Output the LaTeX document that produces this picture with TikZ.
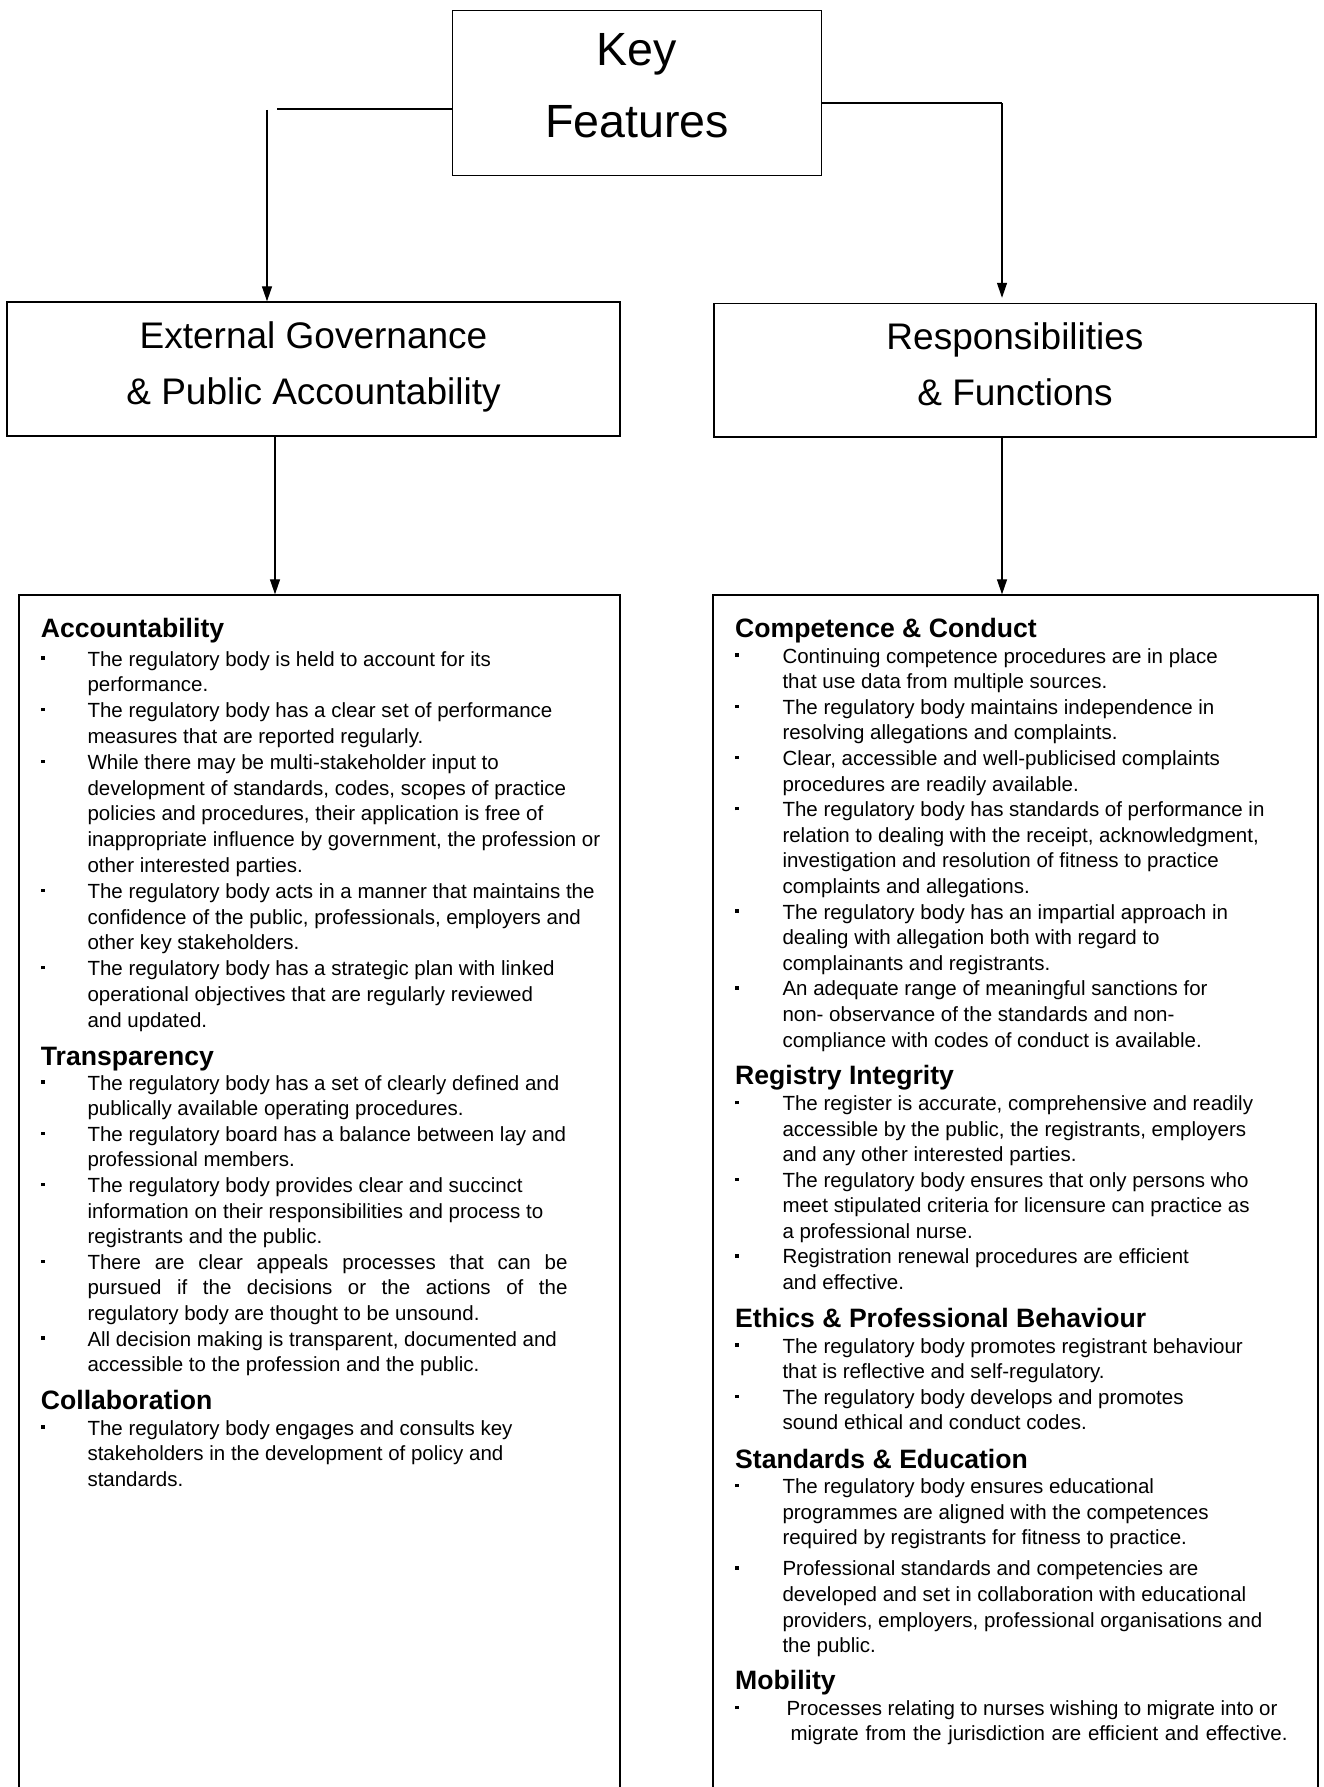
\documentclass[tikz,border=0pt]{standalone}
\usepackage{fontspec}
\setmainfont{Liberation Sans}
\usetikzlibrary{arrows.meta}
\newcommand{\bulL}{\leavevmode\llap{\rule[6.3pt]{3.4pt}{3.4pt}\hspace{42.9pt}}}
\newcommand{\bulR}{\leavevmode\llap{\rule[6.3pt]{3.4pt}{3.4pt}\hspace{43.9pt}}}
\newcommand{\bodyfont}[1]{\fontsize{20.5pt}{#1}\selectfont}
\begin{document}
\begin{tikzpicture}[x=1pt,y=-1pt,
  frame/.style={draw, line width=1.3pt, inner sep=0pt},
  conn/.style={line width=1.2pt},
  arr/.style={conn, -{Triangle[width=10pt,length=15pt]}},
  ttl/.style={anchor=base, inner sep=0pt, font=\fontsize{37pt}{44pt}\selectfont},
  keyt/.style={anchor=base, inner sep=0pt, font=\fontsize{46.6pt}{56pt}\selectfont},
  head/.style={anchor=base west, inner sep=0pt, font=\bfseries\fontsize{26.6pt}{30pt}\selectfont},
  body/.style={anchor=base west, inner sep=0pt},
]
\useasboundingbox (0,0) rectangle (1324,1787);
\fill[white] (0,0) rectangle (1324,1787);

% boxes
\node[frame, minimum width=369pt, minimum height=165pt] (key) at (637.2,93.2) {};
\node[frame, minimum width=613pt, minimum height=134pt] (eg) at (313.5,369) {};
\node[frame, minimum width=602pt, minimum height=133.5pt] (rf) at (1015,370.2) {};
\node[frame, minimum width=601pt, minimum height=1215pt] (lbox) at (319.5,1202.5) {};
\node[frame, minimum width=605pt, minimum height=1215pt] (rbox) at (1015.5,1202.5) {};

% titles
\node[keyt] (k1) at (637,65.7) {Key};
\node[keyt] (k2) at (637,137.7) {Features};
\node[ttl] (eg1) at (313.5,348) {External Governance};
\node[ttl] (eg2) at (313.5,404) {\& Public Accountability};
\node[ttl] (rf1) at (1015,349) {Responsibilities};
\node[ttl] (rf2) at (1015,405) {\& Functions};

% connectors
\coordinate (lh) at (277,109);
\draw[conn] (key.west |- lh) -- (lh);
\coordinate (lv) at (267,110);
\draw[arr] (lv) -- (lv |- eg.north);
\coordinate (rc) at (1002,103.3);
\draw[conn, line width=2.2pt] (key.east |- rc) -- (rc);
\draw[arr] (rc) -- ([yshift=5pt]rc |- rf.north);
\coordinate (ax) at (275,0);
\draw[arr] (ax |- eg.south) -- (ax |- lbox.north);
\coordinate (bx) at (1002,0);
\draw[arr] (bx |- rf.south) -- (bx |- rbox.north);

% left column
\node[head] (hacc) at (40.7,637) {Accountability};
\node[body] (bacc) at (87.3,666) {\parbox[t]{560pt}{\bodyfont{25.8pt}\raggedright
\bulL The regulatory body is held to account for its\\
performance.\\
\bulL The regulatory body has a clear set of performance\\
measures that are reported regularly.\\
\bulL While there may be multi-stakeholder input to\\
development of standards, codes, scopes of practice\\
policies and procedures, their application is free of\\
inappropriate influence by government, the profession or\\
other interested parties.\\
\bulL The regulatory body acts in a manner that maintains the\\
confidence of the public, professionals, employers and\\
other key stakeholders.\\
\bulL The regulatory body has a strategic plan with linked\\
operational objectives that are regularly reviewed\\
and updated.}};

\node[head] (htra) at (40.7,1065) {Transparency};
\node[body] (btra) at (87.3,1090) {\parbox[t]{560pt}{\bodyfont{25.6pt}\raggedright
\bulL The regulatory body has a set of clearly defined and\\
publically available operating procedures.\\
\bulL The regulatory board has a balance between lay and\\
professional members.\\
\bulL The regulatory body provides clear and succinct\\
information on their responsibilities and process to\\
registrants and the public.\\
\bulL\makebox[480pt][s]{There are clear appeals processes that can be}\\
\makebox[480pt][s]{pursued if the decisions or the actions of the}\\
regulatory body are thought to be unsound.\\
\bulL All decision making is transparent, documented and\\
accessible to the profession and the public.}};

\node[head] (hcol) at (40.7,1409) {Collaboration};
\node[body] (bcol) at (87.3,1435) {\parbox[t]{560pt}{\bodyfont{25.6pt}\raggedright
\bulL The regulatory body engages and consults key\\
stakeholders in the development of policy and\\
standards.}};

% right column
\node[head] (hcom) at (735,637) {Competence \& Conduct};
\node[body] (bcom) at (782.3,663) {\parbox[t]{530pt}{\bodyfont{25.6pt}\raggedright
\bulR Continuing competence procedures are in place\\
that use data from multiple sources.\\
\bulR The regulatory body maintains independence in\\
resolving allegations and complaints.\\
\bulR Clear, accessible and well-publicised complaints\\
procedures are readily available.\\
\bulR The regulatory body has standards of performance in\\
relation to dealing with the receipt, acknowledgment,\\
investigation and resolution of fitness to practice\\
complaints and allegations.\\
\bulR The regulatory body has an impartial approach in\\
dealing with allegation both with regard to\\
complainants and registrants.\\
\bulR An adequate range of meaningful sanctions for\\
non- observance of the standards and non-\\
compliance with codes of conduct is available.}};

\node[head] (hreg) at (735,1084.5) {Registry Integrity};
\node[body] (breg) at (782.3,1110.6) {\parbox[t]{530pt}{\bodyfont{25.55pt}\raggedright
\bulR The register is accurate, comprehensive and readily\\
accessible by the public, the registrants, employers\\
and any other interested parties.\\
\bulR The regulatory body ensures that only persons who\\
meet stipulated criteria for licensure can practice as\\
a professional nurse.\\
\bulR Registration renewal procedures are efficient\\
and effective.}};

\node[head] (heth) at (735,1327) {Ethics \& Professional Behaviour};
\node[body] (beth) at (782.3,1353) {\parbox[t]{530pt}{\bodyfont{25.6pt}\raggedright
\bulR The regulatory body promotes registrant behaviour\\
that is reflective and self-regulatory.\\
\bulR The regulatory body develops and promotes\\
sound ethical and conduct codes.}};

\node[head] (hsta) at (735,1468.4) {Standards \& Education};
\node[body] (bsta) at (782.3,1493.4) {\parbox[t]{530pt}{\bodyfont{25.6pt}\raggedright
\bulR The regulatory body ensures educational\\
programmes are aligned with the competences\\
required by registrants for fitness to practice.\\[5.6pt]
\bulR Professional standards and competencies are\\
developed and set in collaboration with educational\\
providers, employers, professional organisations and\\
the public.}};

\node[head] (hmob) at (735,1689.5) {Mobility};
\node[body] (bmob) at (782.3,1715.5) {\parbox[t]{540pt}{\bodyfont{25.2pt}\raggedright
\bulR\hspace*{4pt}\makebox[491pt][s]{Processes relating to nurses wishing to migrate into or}\\
\hspace*{8pt}\makebox[497pt][s]{migrate from the jurisdiction are efficient and effective.}}};
\end{tikzpicture}
\end{document}
